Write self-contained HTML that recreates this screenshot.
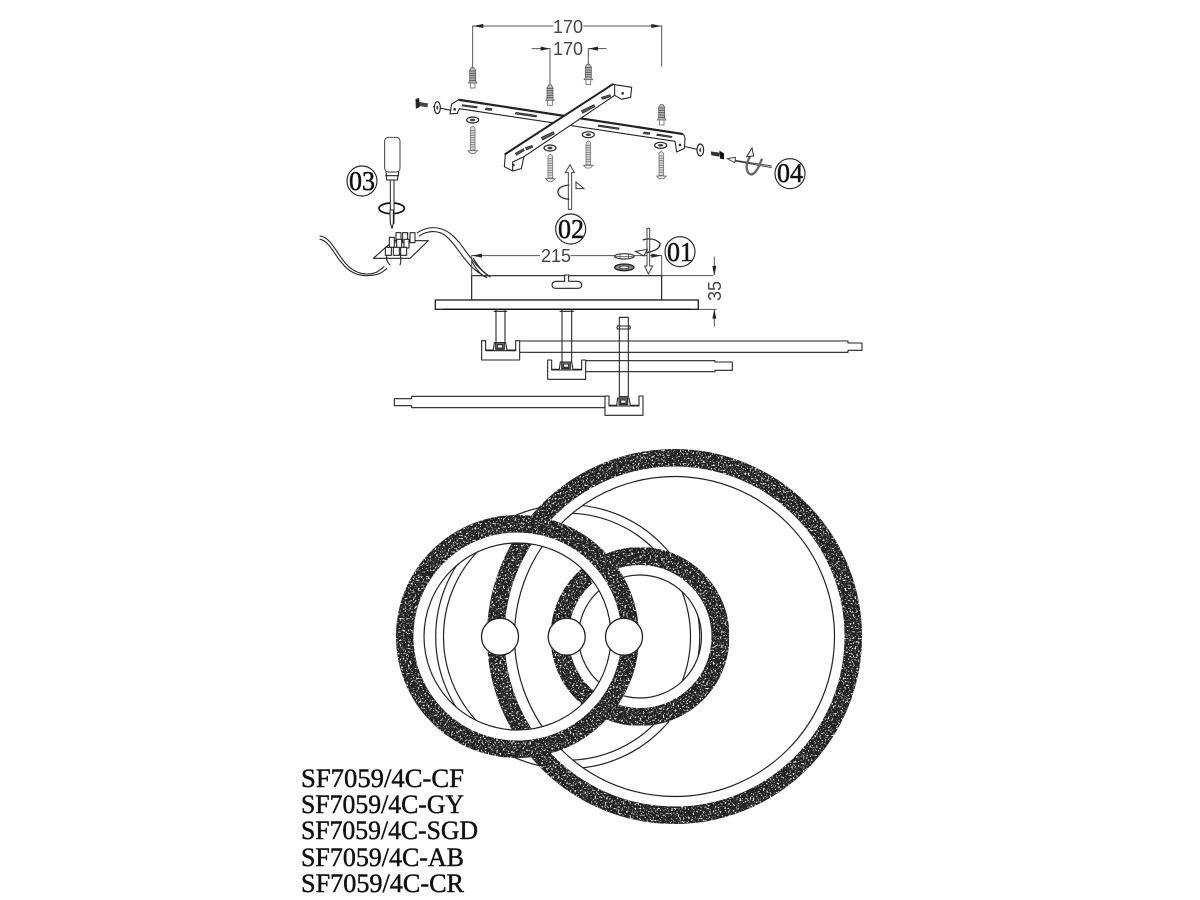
<!DOCTYPE html>
<html>
<head>
<meta charset="utf-8">
<style>
html,body{margin:0;padding:0;background:#fff;width:1200px;height:900px;overflow:hidden}
svg{display:block;filter:blur(0.35px)}
.z{fill:none;stroke:#222;stroke-width:3.2;stroke-linejoin:round;stroke-linecap:round}
.g{fill:none;stroke:#555;stroke-width:3}
.w{fill:#fff;stroke:#222;stroke-width:3.2;stroke-linejoin:round}
.dim{font-family:"Liberation Sans",sans-serif;font-size:18px;fill:#444;text-anchor:middle}
.num{font-family:"Liberation Serif",serif;font-size:27px;fill:#111;text-anchor:middle;stroke:#111;stroke-width:.5}
.code{font-family:"Liberation Serif",serif;font-size:26px;fill:#111;stroke:#111;stroke-width:.45}
</style>
</head>
<body>
<svg width="1200" height="900" viewBox="0 0 1200 900" xmlns="http://www.w3.org/2000/svg">
<defs>
  <filter id="spk" x="-5%" y="-5%" width="110%" height="110%" color-interpolation-filters="sRGB">
    <feTurbulence type="fractalNoise" baseFrequency="0.6" numOctaves="2" seed="7" result="n"/>
    <feColorMatrix in="n" type="matrix" values="0 0 0 0 1  0 0 0 0 1  0 0 0 0 1  9 0 0 0 -5.2" result="m"/>
    <feComposite in="m" in2="SourceAlpha" operator="in" result="s"/>
    <feMerge><feMergeNode in="SourceGraphic"/><feMergeNode in="s"/></feMerge>
  </filter>
  <g id="anchor">
    <path d="M-4,-32 H4 L9,-24 L9,8 L13,14 H-13 L-9,8 V-24 Z" fill="#bbb" stroke="#666" stroke-width="2.4"/>
    <path d="M-9,-22 H9 M-9,-15 H9 M-9,-8 H9 M-9,-1 H9 M-9,6 H9" stroke="#444" stroke-width="2.6"/>
    <rect x="-7" y="14" width="14" height="15" fill="#fff" stroke="#666" stroke-width="2.4"/>
  </g>
  <g id="screw">
    <path d="M-7,-38 L0,-44 L7,-38 V28 H-7 Z" fill="#ddd" stroke="#777" stroke-width="2.4"/>
    <path d="M-8,-30 H8 M-8,-23 H8 M-8,-16 H8 M-8,-9 H8 M-8,-2 H8 M-8,5 H8 M-8,12 H8 M-8,19 H8" stroke="#777" stroke-width="2.4"/>
    <path d="M-14,30 H14 L6,38 H-6 Z" fill="#fff" stroke="#666" stroke-width="2.6"/>
  </g>
  <g id="washer">
    <ellipse rx="18" ry="9" fill="#fff" stroke="#222" stroke-width="3.5"/>
    <ellipse rx="8" ry="4" fill="#444"/>
  </g>
  <g id="clip3" class="z">
    <path d="M0,0 V58 H114 V0 H102 V30 H12 V0 Z" fill="#fff"/>
    <path d="M12,28 L35,28 L38,6 H72 L76,28 H102"/>
    <rect x="42" y="6" width="26" height="20" fill="#888"/>
    <rect x="47" y="12" width="16" height="10" fill="#fff"/>
  </g>
</defs>

<!-- ============ TOP BRACKET (zoom coords) ============ -->
<g transform="matrix(.33333 0 0 .33333 320 10)">
  <!-- dims -->
  <path class="g" d="M458,175 V48 H700 M790,48 H1025 V170"/>
  <path d="M458,48 L490,42 V54 Z M1025,48 L994,42 V54 Z" fill="#222"/>
  <path class="g" d="M635,116 H690 V230 M860,116 H805 V170"/>
  <path d="M690,116 L662,110 V122 Z M805,116 L834,110 V122 Z" fill="#222"/>

  <use href="#anchor" x="458" y="205"/>
  <use href="#anchor" x="690" y="257"/>
  <use href="#anchor" x="805" y="195"/>
  <use href="#anchor" x="1025" y="316"/>

  <!-- long bracket -->
  <path class="w" d="M390,312 L395,282 L418,268 L1085,370 Q1095,375 1095,388 L1093,415 L1070,426 L1065,394 L418,296 L412,310 Z"/>
  <path class="z" style="stroke-width:6" d="M418,270 L1087,372"/>
  <g fill="#555" stroke="#222" stroke-width="2">
    <path d="M428,284 L472,290 L470,294 L426,288 Z"/>
    <path d="M498,294 L516,296 L514,301 L496,299 Z"/>
    <path d="M588,307 L650,316 L648,321 L586,312 Z"/>
    <path d="M836,345 L898,354 L896,358 L834,349 Z"/>
    <path d="M972,366 L990,368 L988,373 L970,371 Z"/>
    <path d="M1012,372 L1056,379 L1054,383 L1010,376 Z"/>
  </g>
  <circle cx="404" cy="298" r="4" fill="#333"/>
  <circle cx="1080" cy="405" r="4" fill="#333"/>

  <!-- cross bracket -->
  <path class="w" d="M553,470 L556,434 L878,223 L935,232 L932,262 L905,268 L884,256 L612,440 L604,476 L578,483 Z"/>
  <path class="z" style="stroke-width:6" d="M556,432 L878,223"/>
  <path class="z" d="M884,226 L884,256 M578,456 L612,440 M578,456 L578,483"/>
  <g fill="#555" stroke="#222" stroke-width="2">
    <path d="M586,430 L610,416 L613,422 L590,436 Z"/>
    <path d="M616,413 L636,406 L638,412 L620,420 Z"/>
    <path d="M664,382 L700,365 L703,372 L668,390 Z"/>
    <path d="M784,302 L822,284 L825,290 L788,310 Z"/>
    <path d="M844,262 L870,254 L872,260 L848,268 Z"/>
  </g>
  <circle cx="908" cy="250" r="4" fill="#333"/>
  <circle cx="580" cy="465" r="4" fill="#333"/>

  <use href="#washer" x="458" y="330"/>
  <use href="#washer" x="690" y="414"/>
  <use href="#washer" x="805" y="374"/>
  <use href="#washer" x="1022" y="406"/>
  <use href="#screw" x="458" y="392"/>
  <use href="#screw" x="691" y="476"/>
  <use href="#screw" x="805" y="436"/>
  <use href="#screw" x="1024" y="468"/>

  <!-- side hardware -->
  <path class="z" d="M340,290 L392,301"/>
  <path d="M288,268 L296,266 L298,290 L289,294 Z" fill="#222" stroke="#222" stroke-width="3"/>
  <path d="M298,276 L324,280 L322,292 L298,288 Z" fill="#444"/>
  <ellipse cx="352" cy="293" rx="9" ry="18" fill="#fff" stroke="#222" stroke-width="3.5"/>
  <ellipse cx="352" cy="293" rx="3" ry="6" fill="#444"/>
  <path class="z" d="M1095,410 L1135,419"/>
  <ellipse cx="1141" cy="420" rx="10" ry="18" fill="#fff" stroke="#222" stroke-width="3.5"/>
  <ellipse cx="1141" cy="420" rx="3" ry="6" fill="#444"/>
  <path d="M1172,424 L1198,428 L1198,440 L1174,436 Z" fill="#333"/>
  <path d="M1198,422 L1212,430 L1212,448 L1200,446 Z" fill="#111"/>

  <!-- 04 arrow -->
  <path d="M1356,468 L1246,451 L1246,442 L1222,446 L1244,458 L1245,453 L1355,473" fill="#fff" stroke="#444" stroke-width="3"/>
  <path d="M1290,440 Q1272,470 1286,490 Q1305,505 1326,446" fill="none" stroke="#666" stroke-width="7"/>
  <path d="M1280,440 L1296,414 L1301,438 Z" fill="#fff" stroke="#333" stroke-width="3"/>
  <circle cx="1410" cy="491" r="45" fill="#fff" stroke="#222" stroke-width="3.4"/>

  <!-- 03 screwdriver -->
  <circle cx="126" cy="513" r="45" fill="#fff" stroke="#222" stroke-width="3.4"/>
  <ellipse cx="215" cy="595" rx="38" ry="16" fill="none" stroke="#111" stroke-width="5"/>
  <rect x="194" y="382" width="46" height="104" rx="11" fill="#fff" stroke="#333" stroke-width="2.8"/>
  <path class="z" d="M198,486 L200,510 H232 L236,486"/>
  <path class="z" d="M197,497 H236"/>
  <rect x="211" y="510" width="11" height="130" fill="#fff" stroke="#222" stroke-width="3"/>

  <!-- 02 arrow -->
  <path d="M745,598 V488 H736 L750,464 L763,488 H755 V598 Z" fill="#fff" stroke="#444" stroke-width="3"/>
  <path d="M748,525 Q712,528 714,548 Q718,566 748,568" fill="none" stroke="#333" stroke-width="4"/>
  <path d="M768,516 L792,536 L768,536 Z" fill="#fff" stroke="#333" stroke-width="3"/>
</g>

<!-- ============ SIDE VIEW (zoom 2 coords) ============ -->
<g transform="matrix(.33333 0 0 .33333 310 210)">
  <!-- screwdriver tip -->
  <path d="M240,0 L241,38 L246,56 L250,38 L250,0 Z" fill="#fff" stroke="#222" stroke-width="3"/>

  <!-- wires -->
  <path class="z" d="M30,78 C80,84 90,190 170,192 C195,192 205,185 222,170"/>
  <path class="z" d="M30,88 C75,96 85,197 170,197 C200,197 215,190 230,176"/>
  <path class="z" d="M322,68 C350,50 385,45 420,70 C465,105 480,160 540,200"/>
  <path class="z" d="M328,78 C350,62 385,58 410,80 C450,115 465,170 530,202"/>

  <!-- terminal block -->
  <path class="w" d="M190,145 L250,92 H355 L300,145 Z"/>
  <path class="z" d="M240,165 Q225,150 232,132 M270,165 Q275,150 270,132"/>
  <g class="w">
    <rect x="258" y="68" width="15" height="30"/>
    <rect x="278" y="68" width="15" height="30"/>
    <rect x="300" y="68" width="15" height="30"/>
    <rect x="238" y="82" width="15" height="30"/>
    <rect x="260" y="88" width="15" height="26"/>
    <rect x="282" y="88" width="15" height="26"/>
    <rect x="226" y="112" width="18" height="24"/>
    <rect x="250" y="112" width="18" height="24"/>
    <rect x="272" y="112" width="18" height="24"/>
  </g>

  <!-- dims -->
  <path class="g" d="M485,197 V137 H690 M782,137 H1055 V197"/>
  <path d="M485,137 L516,131 V143 Z M1055,137 L1024,131 V143 Z" fill="#222"/>
  <path class="g" d="M1055,197 H1210 M1165,298 H1220 M1213,140 V195 M1213,350 V300"/>
  <path d="M1213,197 L1207,168 H1219 Z M1213,298 L1207,326 H1219 Z" fill="#222"/>

  <!-- box -->
  <path class="z" d="M485,197 H1055 V270 H485 Z" style="stroke-width:3.5"/>
  <path class="w" d="M764,195 V214 H738 Q726,216 726,225 Q726,235 738,235 H804 Q815,235 815,225 Q815,216 804,214 H776 V195 Z"/>

  <!-- wire over box corner -->
  <path class="z" d="M490,145 C505,170 520,190 540,200 M486,155 C500,180 515,198 530,202"/>

  <!-- plate -->
  <rect x="376" y="270" width="789" height="28" fill="#fff" stroke="#222" stroke-width="4"/>
  <path d="M400,298 H1140" stroke="#111" stroke-width="4"/>

  <!-- washers -->
  <ellipse cx="943" cy="139" rx="29" ry="8" fill="#fff" stroke="#333" stroke-width="3.5"/>
  <path d="M916,139 H970 M930,133 V145 M956,133 V145" stroke="#333" stroke-width="2"/>
  <ellipse cx="943" cy="172" rx="29" ry="10" fill="#888" stroke="#222" stroke-width="4"/>
  <ellipse cx="943" cy="172" rx="14" ry="4" fill="#fff" stroke="#222" stroke-width="2"/>

  <!-- 01 arrow -->
  <path d="M1011,55 H1019 V168 H1028 L1015,192 L1004,168 H1011 Z" fill="#fff" stroke="#444" stroke-width="3"/>
  <path d="M998,90 Q1030,80 1050,100 Q1052,120 1010,128" fill="none" stroke="#333" stroke-width="4"/>
  <path d="M1012,118 L976,124 L1002,138 Z" fill="#fff" stroke="#333" stroke-width="3"/>

  <!-- stems -->
  <path class="z" d="M558,298 V395 M585,298 V395 M552,304 H590"/>
  <path class="z" d="M756,298 V455 M785,298 V455 M750,304 H790"/>

  <!-- bars -->
  <path class="z" d="M620,393 H1614 V399 H1656 V421 H1614 V427 H620" />
  <path class="z" d="M825,452 H1215 V456 H1267 V481 H1215 V485 H825"/>
  <path class="z" d="M885,559 H305 V566 H253 V587 H305 V593 H885"/>

  <use href="#clip3" x="515" y="392"/>
  <use href="#clip3" x="713" y="450"/>
  <use href="#clip3" x="885" y="558"/>

  <path class="w" d="M928,322 H955 V560 H928 Z" style="fill:none"/>
  <path class="z" d="M922,348 H960 Q962,353 960,357 H922 Q920,353 922,348 Z"/>

  <circle cx="782" cy="57" r="45" fill="#fff" stroke="#222" stroke-width="3.4"/>
  <circle cx="1110" cy="125" r="45" fill="#fff" stroke="#222" stroke-width="3.4"/>
</g>

<!-- labels -->
<text class="dim" x="568" y="33">170</text>
<text class="dim" x="568" y="55">170</text>
<text class="dim" x="556" y="262">215</text>
<text class="dim" transform="translate(721,291) rotate(-90)">35</text>
<text class="num" x="362" y="190" textLength="26" lengthAdjust="spacingAndGlyphs">03</text>
<text class="num" x="790" y="182" textLength="26" lengthAdjust="spacingAndGlyphs">04</text>
<text class="num" x="571" y="238" textLength="26" lengthAdjust="spacingAndGlyphs">02</text>
<text class="num" x="680" y="261" textLength="26" lengthAdjust="spacingAndGlyphs">01</text>

<!-- ============ RINGS ============ -->
<g fill="none">
  <circle cx="567.7" cy="636.7" r="132" stroke="#222" stroke-width="1.2"/>
  <circle cx="567" cy="636.7" r="123.5" stroke="#222" stroke-width="1.2"/>

  <circle cx="674.5" cy="636.5" r="165" stroke="#fff" stroke-width="10"/>
  <circle cx="674.5" cy="636.5" r="160" stroke="#222" stroke-width="1.2"/>
  <circle cx="674.5" cy="636.5" r="178.8" stroke="#222" stroke-width="17.5" filter="url(#spk)"/>

  <circle cx="640" cy="636.5" r="66.5" stroke="#fff" stroke-width="10"/>
  <circle cx="640" cy="636.5" r="61.5" stroke="#222" stroke-width="1.2"/>
  <circle cx="640" cy="636.5" r="80.5" stroke="#222" stroke-width="18" filter="url(#spk)"/>

  <circle cx="517.5" cy="636.5" r="98.8" stroke="#fff" stroke-width="10.5"/>
  <circle cx="517.5" cy="636.5" r="93.5" stroke="#222" stroke-width="1.2"/>
  <circle cx="517.5" cy="636.5" r="112.8" stroke="#222" stroke-width="17.5" filter="url(#spk)"/>

  <circle cx="500" cy="636.7" r="18.5" fill="#fff" stroke="#222" stroke-width="1.3"/>
  <circle cx="566.7" cy="636.7" r="18.5" fill="#fff" stroke="#222" stroke-width="1.3"/>
  <circle cx="624" cy="636.7" r="18.5" fill="#fff" stroke="#222" stroke-width="1.3"/>
</g>

<!-- model codes -->
<text class="code" x="301" y="787" textLength="163" lengthAdjust="spacingAndGlyphs">SF7059/4C-CF</text>
<text class="code" x="301" y="813" textLength="163" lengthAdjust="spacingAndGlyphs">SF7059/4C-GY</text>
<text class="code" x="301" y="839" textLength="177" lengthAdjust="spacingAndGlyphs">SF7059/4C-SGD</text>
<text class="code" x="301" y="866" textLength="163" lengthAdjust="spacingAndGlyphs">SF7059/4C-AB</text>
<text class="code" x="301" y="892" textLength="163" lengthAdjust="spacingAndGlyphs">SF7059/4C-CR</text>
</svg>
</body>
</html>
